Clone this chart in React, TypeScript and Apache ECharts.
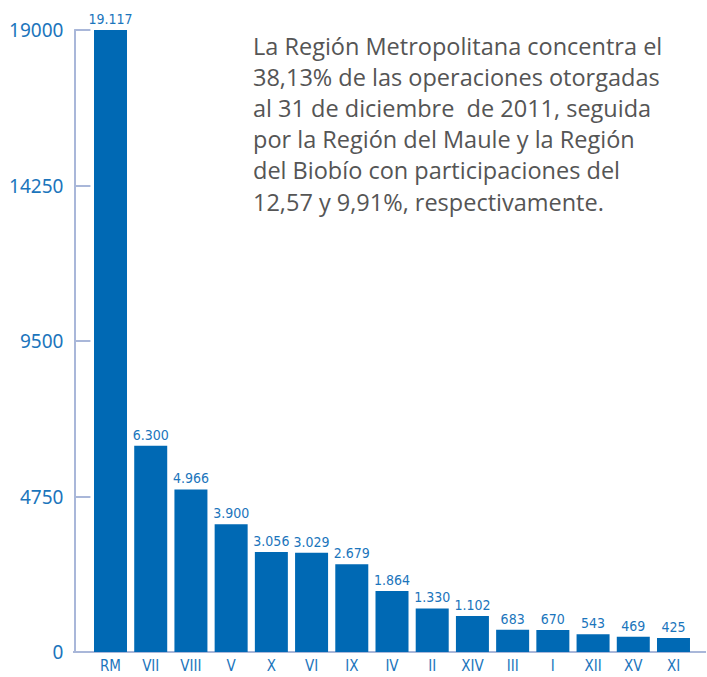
import React, { useEffect, useRef } from "react";
import * as echarts from "echarts";

const categories = ["RM", "VII", "VIII", "V", "X", "VI", "IX", "IV", "II", "XIV", "III", "I", "XII", "XV", "XI"];
const values = [19117, 6300, 4966, 3900, 3056, 3029, 2679, 1864, 1330, 1102, 683, 670, 543, 469, 425];
const yTicks = [0, 4750, 9500, 14250, 19000];
const noteLines = [
  "La Región Metropolitana concentra el",
  "38,13% de las operaciones otorgadas",
  "al 31 de diciembre  de 2011, seguida",
  "por la Región del Maule y la Región",
  "del Biobío con participaciones del",
  "12,57 y 9,91%, respectivamente.",
];

const BLUE = "#0069b4";
const LABEL_BLUE = "#1b75bc";
const AXIS = "#a9b7d9";
const NARROW = "Liberation Sans Narrow, DejaVu Sans Condensed, sans-serif";

function fmt(v: number): string {
  return String(v).replace(/\B(?=(\d{3})+(?!\d))/g, ".");
}

export default function App() {
  const ref = useRef<HTMLDivElement>(null);
  useEffect(() => {
    document.body.style.margin = "0";
    const chart = echarts.init(ref.current!, null, { renderer: "svg" });
    chart.setOption({
      animation: false,
      grid: { left: 90.4, right: 13.4, top: 30, bottom: 25, containLabel: false },
      xAxis: {
        type: "category",
        data: categories,
        axisLine: { show: true, lineStyle: { color: AXIS, width: 2 } },
        axisTick: { show: false },
        axisLabel: { color: LABEL_BLUE, fontSize: 15, fontFamily: NARROW, margin: 6 },
      },
      yAxis: {
        type: "value",
        min: yTicks[0],
        max: yTicks[yTicks.length - 1],
        interval: yTicks[1] - yTicks[0],
        offset: 16,
        splitLine: { show: false },
        axisLine: { show: true, lineStyle: { color: AXIS, width: 2 } },
        axisTick: { show: true, inside: true, length: 16, lineStyle: { color: AXIS, width: 2 } },
        axisLabel: {
          color: LABEL_BLUE,
          fontSize: 19,
          fontFamily: "Noto Sans, sans-serif",
          margin: 11,
          formatter: (v: number) => String(v),
        },
      },
      graphic: [
        { type: "line", shape: { x1: 73, y1: 652, x2: 706, y2: 652 }, style: { stroke: AXIS, lineWidth: 2 }, z: 1 },
        {
          type: "text",
          left: 253,
          top: 30,
          style: {
            text: noteLines.join("\n"),
            fill: "#555555",
            font: "23.5px 'Open Sans', sans-serif",
            lineHeight: 31.2,
          },
        },
      ],
      series: [
        {
          type: "bar",
          data: values,
          barWidth: 33,
          itemStyle: { color: BLUE },
          z: 3,
          label: {
            show: true,
            position: "top",
            distance: 4,
            color: LABEL_BLUE,
            fontSize: 14,
            fontFamily: NARROW,
            formatter: (p: any) => fmt(p.value),
          },
        },
      ],
    });
    return () => chart.dispose();
  }, []);
  return <div ref={ref} style={{ position: "absolute", left: 0, top: 0, width: 707, height: 677 }} />;
}
